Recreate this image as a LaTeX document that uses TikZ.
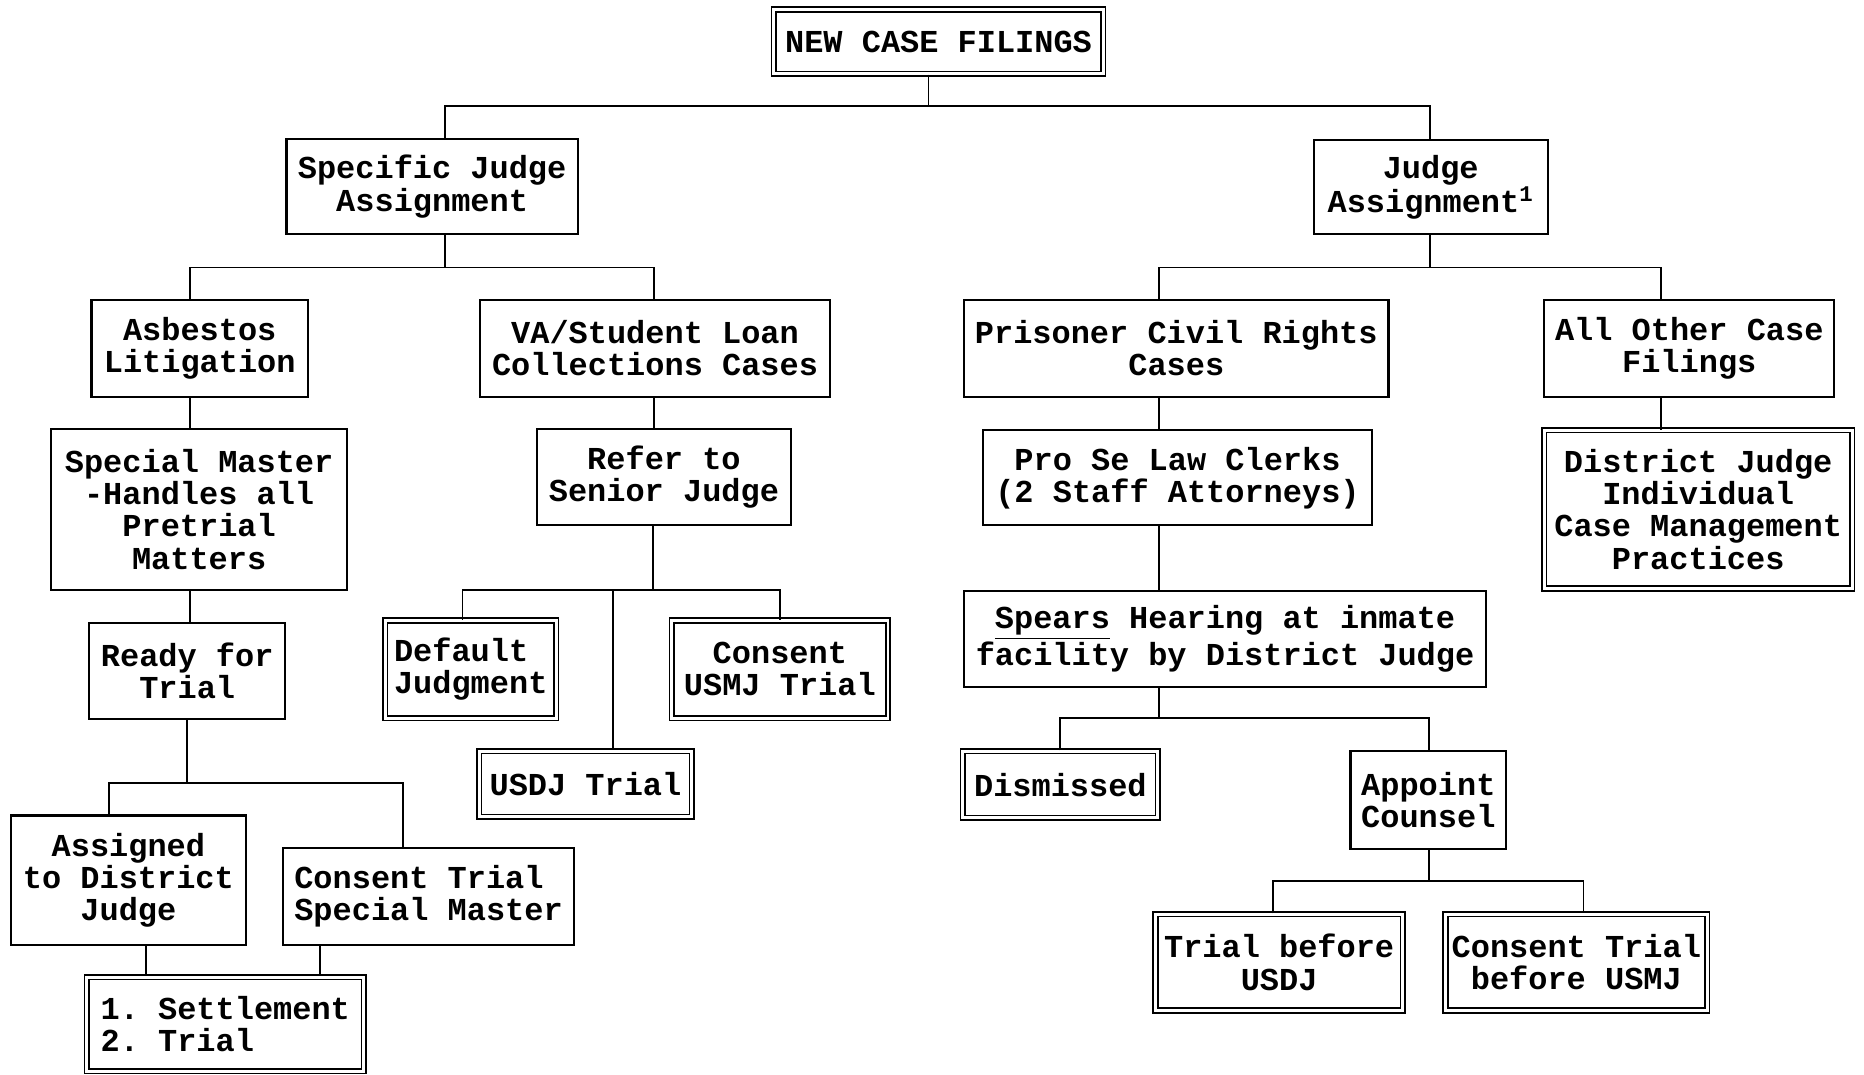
\documentclass[tikz,border=0pt]{standalone}
\usepackage{fontspec}
\setmonofont{Liberation Mono}
\usetikzlibrary{calc}

\begin{document}
\begin{tikzpicture}[x=0.02cm,y=-0.02cm,
  blk/.style={draw,line width=1pt,align=center,inner sep=2pt,font=\ttfamily\bfseries\fontsize{15.3}{15.4}\selectfont},
  dbl/.style={blk,double,line width=0.8pt,double distance=1.4pt},
  sz/.style 2 args={minimum width=#1*0.02cm,minimum height=#2*0.02cm},
  link/.style={line width=0.9pt}]
  \useasboundingbox (0,0) rectangle (1568,904);

  % top
  \node[dbl,sz={277}{54}] (new) at (789.5,35) {NEW CASE FILINGS};
  \node[blk,sz={245}{80}] (spec) at (363.5,157) {Specific Judge\\Assignment};
  \node[blk,sz={197}{79}] (judge) at (1203.5,157.5) {Judge\\Assignment\textsuperscript{1}};

  % second row
  \node[blk,sz={182}{82}] (asb) at (168,293) {Asbestos\\Litigation};
  \node[blk,sz={294}{82}] (va) at (551,293) {VA/Student Loan\\Collections Cases};
  \node[blk,sz={357}{82}] (pris) at (989.5,293) {Prisoner Civil Rights\\Cases};
  \node[blk,sz={244}{82}] (other) at (1421,293) {All Other Case\\Filings};

  % left branch
  \node[blk,sz={249}{135}] (spm) at (167.5,428.5) {Special Master\\-Handles all\\Pretrial\\Matters};
  \node[blk,sz={165}{81}] (ready) at (157.5,564.5) {Ready for\\Trial};
  \node[blk,sz={198}{109}] (assigned) at (108,740.5) {Assigned\\to District\\Judge};
  \node[blk,sz={245}{82},align=left] (ctsm) at (360.5,754) {Consent Trial\\Special Master};
  \node[dbl,sz={233}{79},align=left] (settle) at (189.5,861.5) {1. Settlement\\2. Trial};

  % VA branch
  \node[blk,sz={213}{81}] (refer) at (558.5,401.5) {Refer to\\Senior Judge};
  \node[dbl,sz={144}{82},align=left] (default) at (396,563) {Default\\Judgment};
  \node[dbl,sz={182}{82}] (consent) at (656,563) {Consent\\USMJ Trial};
  \node[dbl,sz={179}{55}] (usdj) at (492.5,659.5) {USDJ Trial};

  % prisoner branch
  \node[blk,sz={327}{80}] (prose) at (990.5,402) {Pro Se Law Clerks\\(2 Staff Attorneys)};
  \node[blk,sz={439}{81}] (spears) at (1030.5,537.5) {\underline{Spears} Hearing at inmate\\facility by District Judge};
  \node[dbl,sz={164}{56}] (dism) at (892,660) {Dismissed};
  \node[blk,sz={131}{82}] (appoint) at (1201.5,673) {Appoint\\Counsel};
  \node[dbl,sz={208}{81}] (tusdj) at (1076,809.5) {Trial before\\USDJ};
  \node[dbl,sz={220}{81}] (ctusmj) at (1326,809.5) {Consent Trial\\before USMJ};

  % other branch
  \node[dbl,sz={259}{133}] (dj) at (1428.5,428.5) {District Judge\\Individual\\Case Management\\Practices};

  % connectors
  \draw[link] (new.south -| 781,0) -- (781,89);
  \draw[link] (spec.north -| 374,0) -- (374,89) -| (judge.north -| 1203,0);

  \draw[link] (spec.south -| 374,0) -- (374,225);
  \draw[link] (asb.north -| 160,0) -- (160,225) -| (va.north -| 550,0);
  \draw[link] (judge.south -| 1203,0) -- (1203,225);
  \draw[link] (pris.north -| 975,0) -- (975,225) -| (other.north -| 1397,0);

  \draw[link] (asb.south -| 160,0) -- (spm.north -| 160,0);
  \draw[link] (spm.south -| 160,0) -- (ready.north -| 160,0);
  \draw[link] (ready.south -| 157,0) -- (157,659);
  \draw[link] (assigned.north -| 92,0) -- (92,659) -| (ctsm.north -| 339,0);
  \draw[link] (assigned.south -| 123,0) -- (settle.north -| 123,0);
  \draw[link] (ctsm.south -| 269,0) -- (settle.north -| 269,0);

  \draw[link] (va.south -| 550,0) -- (refer.north -| 550,0);
  \draw[link] (refer.south -| 549,0) -- (549,496);
  \draw[link] (default.north -| 389,0) -- (389,496) -| (consent.north -| 656,0);
  \draw[link] (516,496) -- (usdj.north -| 516,0);

  \draw[link] (pris.south -| 975,0) -- (prose.north -| 975,0);
  \draw[link] (prose.south -| 975,0) -- (spears.north -| 975,0);
  \draw[link] (spears.south -| 975,0) -- (975,604);
  \draw[link] (dism.north -| 892,0) -- (892,604) -| (appoint.north -| 1202,0);
  \draw[link] (appoint.south -| 1202,0) -- (1202,741);
  \draw[link] (tusdj.north -| 1071,0) -- (1071,741) -| (ctusmj.north -| 1332,0);

  \draw[link] (other.south -| 1397,0) -- (dj.north -| 1397,0);
\end{tikzpicture}
\end{document}
